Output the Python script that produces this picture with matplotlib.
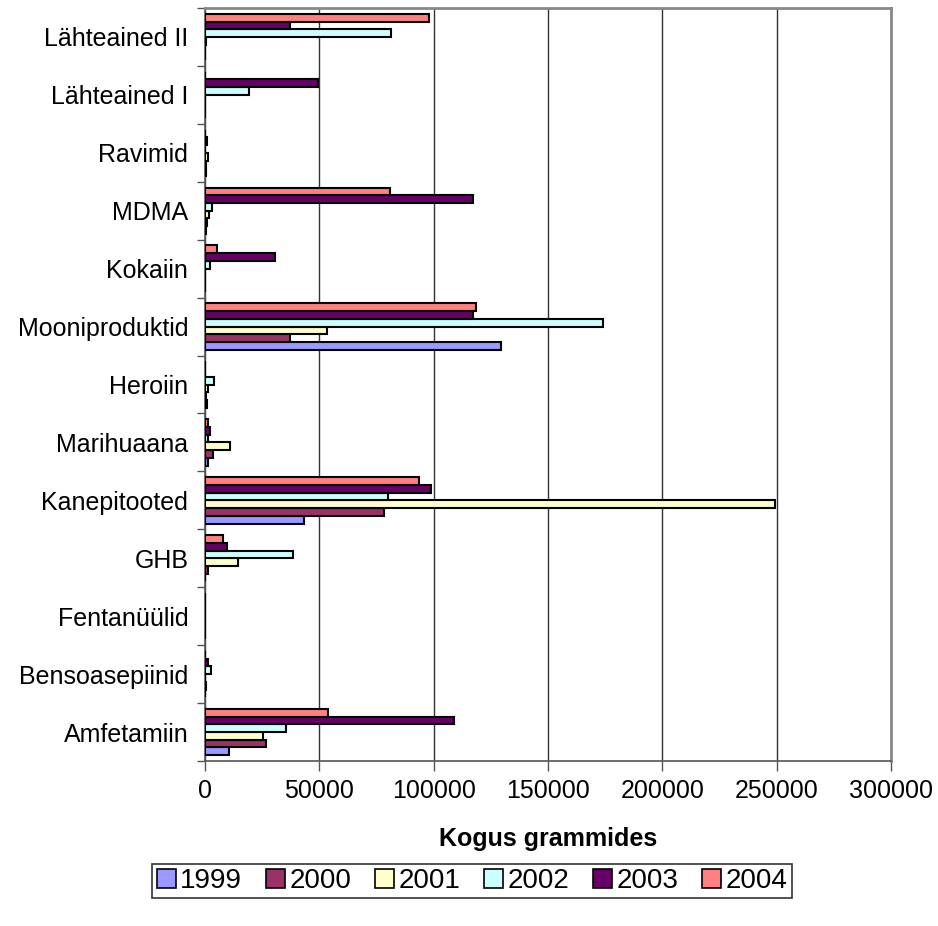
import matplotlib
matplotlib.use("Agg")
import matplotlib.pyplot as plt
import numpy as np
from matplotlib.patches import Patch

plt.rcParams['font.family'] = ['Liberation Sans', 'DejaVu Sans']

categories = ["Amfetamiin", "Bensoasepiinid", "Fentanüülid", "GHB", "Kanepitooted",
              "Marihuaana", "Heroiin", "Mooniproduktid", "Kokaiin", "MDMA",
              "Ravimid", "Lähteained I", "Lähteained II"]
years = ["1999", "2000", "2001", "2002", "2003", "2004"]
colors = ["#9999FF", "#993366", "#FFFFCC", "#CCFFFF", "#660066", "#FF8080"]

v1999 = [10600, 0, 0, 0, 43200, 1400, 700, 129300, 0, 500, 500, 0, 0]
v2000 = [26700, 500, 0, 1200, 78100, 3400, 600, 37300, 0, 900, 500, 0, 0]
v2001 = [25200, 0, 0, 14600, 249300, 10900, 1200, 53200, 0, 1700, 1300, 0, 500]
v2002 = [35300, 2500, 0, 38600, 80200, 1400, 3800, 174000, 2300, 3200, 0, 19300, 81200]
v2003 = [109000, 1300, 0, 9800, 98900, 2000, 0, 117400, 30600, 117200, 800, 49500, 37200]
v2004 = [53900, 0, 0, 7900, 93700, 1200, 0, 118400, 5100, 80700, 0, 0, 98000]
series = [v1999, v2000, v2001, v2002, v2003, v2004]

xticks = [0, 50000, 100000, 150000, 200000, 250000, 300000]

fig = plt.figure(figsize=(9.38, 9.26), dpi=100)
ax = fig.add_axes([205/938, 1-761/926, (891-205)/938, (761-8)/926])

n = len(series)
h = 0.8 / n
y = np.arange(len(categories))
for j, (vals, col, yr) in enumerate(zip(series, colors, years)):
    ax.barh(y + (j - (n-1)/2) * h, vals, height=h, color=col,
            edgecolor="black", linewidth=1.5, zorder=3)

ax.set_xlim(0, 300000)
ax.set_ylim(-0.5, len(categories) - 0.5)
ax.set_xticks(xticks)
ax.set_xticklabels([str(t) for t in xticks], fontsize=18)
ax.set_yticks(y)
ax.set_yticklabels(categories, fontsize=18)
ax.tick_params(axis='y', which='major', length=0, pad=12)
ax.set_yticks(np.arange(-0.5, len(categories), 1.0), minor=True)
ax.tick_params(axis='y', which='minor', length=6, width=1, color="#555555")
ax.tick_params(axis='x', which='major', length=7, width=1, color="#555555", pad=6)

ax.grid(axis='x', color="#333333", linewidth=1, zorder=0)
for s in ['top', 'right']:
    ax.spines[s].set_color("#888888")
    ax.spines[s].set_linewidth(2)
for s in ['left', 'bottom']:
    ax.spines[s].set_color("#555555")
    ax.spines[s].set_linewidth(1.2)

ax.set_xlabel("Kogus grammides", fontsize=18, fontweight='bold', labelpad=17)

handles = [Patch(facecolor=c, edgecolor='black', linewidth=1.2, label=yr)
           for c, yr in zip(colors, years)]
leg = fig.legend(handles=handles, loc='center', bbox_to_anchor=(472/938, 1-881/926),
                 ncol=6, fontsize=20, frameon=True, fancybox=False,
                 handlelength=0.7, handleheight=0.7, handletextpad=0.15,
                 columnspacing=0.85, borderpad=0.15, borderaxespad=0)
leg.get_frame().set_edgecolor('black')
leg.get_frame().set_linewidth(1.2)

fig.savefig("out.png", dpi=100)
